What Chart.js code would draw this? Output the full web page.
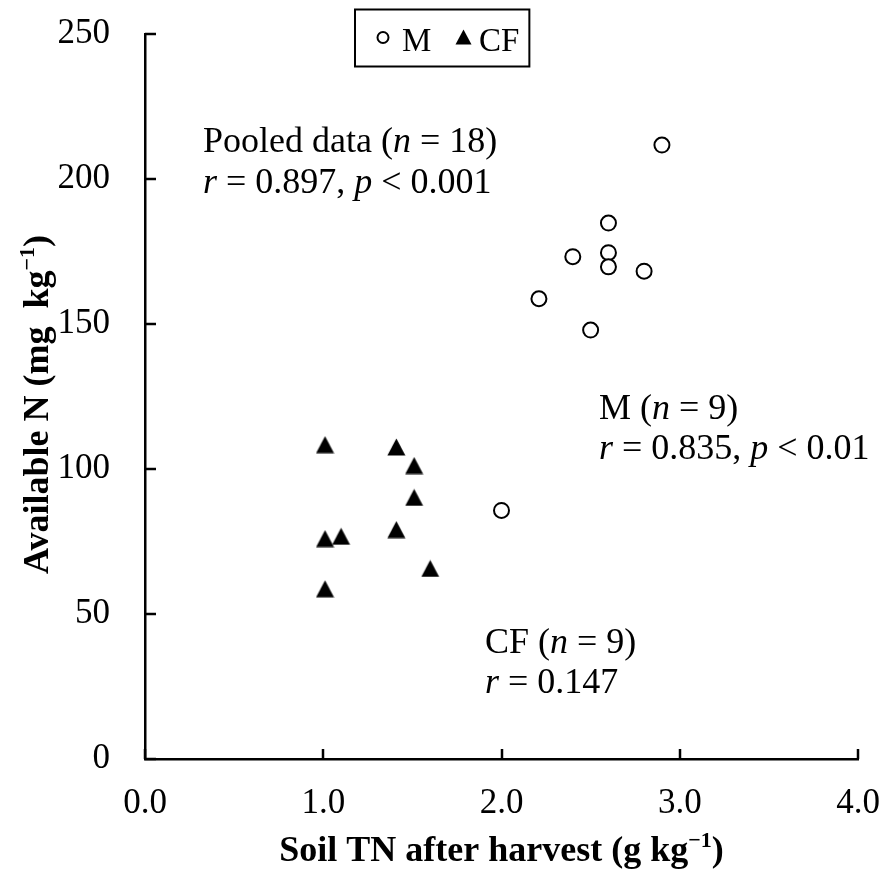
<!DOCTYPE html>
<html>
<head>
<meta charset="utf-8">
<script src="https://cdn.jsdelivr.net/npm/chart.js@4.4.1/dist/chart.umd.min.js"></script>
<style>
  html, body { margin: 0; padding: 0; background: #fff; }
  #wrap { width: 884px; height: 876px; }
</style>
</head>
<body>
<div id="wrap"><canvas id="nChart" width="884" height="876"></canvas></div>
<script>
// Manure (M) plots
const mTN = [2.0, 2.21, 2.4, 2.5, 2.6, 2.6, 2.6, 2.8, 2.9];
const mAvailN = [85.7, 158.7, 173.2, 147.9, 184.8, 174.6, 169.7, 168.2, 211.7];
// Chemical fertilizer (CF) plots
const cfTN = [1.01, 1.01, 1.01, 1.1, 1.41, 1.41, 1.51, 1.51, 1.6];
const cfAvailN = [108.4, 76.0, 58.7, 76.8, 107.6, 79.1, 101.2, 90.2, 65.7];

const xTicks = [0, 1, 2, 3, 4];
const yTicks = [0, 50, 100, 150, 200, 250];

const FONT = '"Liberation Serif", "Times New Roman", serif';

// filled triangle marker, centred on its box like the original
function makeTriangle(w, h) {
    const c = document.createElement('canvas');
    c.width = w;
    c.height = h;
    const g = c.getContext('2d');
    g.fillStyle = '#000';
    g.beginPath();
    g.moveTo(w / 2, 0.5);
    g.lineTo(w - 0.5, h - 0.5);
    g.lineTo(0.5, h - 0.5);
    g.closePath();
    g.fill();
    return c;
}
const triMarker = makeTriangle(19, 18);

function drawRich(ctx, parts, x, y, size, bold) {
    let cx = x;
    parts.forEach(([txt, italic]) => {
        ctx.font = `${italic ? 'italic ' : ''}${bold ? 'bold ' : ''}${size}px ${FONT}`;
        ctx.fillText(txt, cx, y);
        cx += ctx.measureText(txt).width;
    });
    return cx;
}

// text with "−1" superscript before the closing bracket
function titleWidth(ctx, main, sup, tail, size) {
    ctx.font = `bold ${size}px ${FONT}`;
    let w = ctx.measureText(main).width + ctx.measureText(tail).width;
    ctx.font = `bold ${Math.round(size * 0.62)}px ${FONT}`;
    return w + ctx.measureText(sup).width;
}
function drawTitle(ctx, main, sup, tail, x, y, size) {
    ctx.font = `bold ${size}px ${FONT}`;
    ctx.fillText(main, x, y);
    let cx = x + ctx.measureText(main).width;
    ctx.font = `bold ${Math.round(size * 0.62)}px ${FONT}`;
    ctx.fillText(sup, cx, y - size * 0.4);
    cx += ctx.measureText(sup).width;
    ctx.font = `bold ${size}px ${FONT}`;
    ctx.fillText(tail, cx, y);
}

const extras = {
    id: 'extras',
    afterDraw(chart) {
        const ctx = chart.ctx;
        const xs = chart.scales.x;
        const ys = chart.scales.y;
        ctx.save();
        ctx.strokeStyle = '#000';
        ctx.fillStyle = '#000';
        ctx.lineWidth = 2.5;

        // inward tick marks
        xTicks.forEach(v => {
            const px = Math.round(xs.getPixelForValue(v));
            ctx.beginPath();
            ctx.moveTo(px, ys.bottom);
            ctx.lineTo(px, ys.bottom - 10);
            ctx.stroke();
        });
        yTicks.forEach(v => {
            const py = Math.round(ys.getPixelForValue(v));
            ctx.beginPath();
            ctx.moveTo(xs.left, py);
            ctx.lineTo(xs.left + 11, py);
            ctx.stroke();
        });

        // annotations
        ctx.textAlign = 'left';
        ctx.textBaseline = 'alphabetic';
        const aSize = 36;
        drawRich(ctx, [['Pooled data (', false], ['n', true], [' = 18)', false]], 203, 152, aSize);
        drawRich(ctx, [['r', true], [' = 0.897, ', false], ['p', true], [' < 0.001', false]], 203, 193, aSize);
        drawRich(ctx, [['M (', false], ['n', true], [' = 9)', false]], 599, 419, aSize);
        drawRich(ctx, [['r', true], [' = 0.835, ', false], ['p', true], [' < 0.01', false]], 599, 459, aSize);
        drawRich(ctx, [['CF (', false], ['n', true], [' = 9)', false]], 485, 653, aSize);
        drawRich(ctx, [['r', true], [' = 0.147', false]], 485, 693, aSize);

        // legend box
        ctx.lineWidth = 2;
        ctx.font = `33px ${FONT}`;
        const cfEnd = 479 + ctx.measureText('CF').width;
        ctx.strokeRect(355, 9.5, cfEnd + 10 - 355, 57);
        ctx.beginPath();
        ctx.arc(383, 37.5, 5.5, 0, Math.PI * 2);
        ctx.stroke();
        ctx.fillText('M', 402, 51);
        ctx.drawImage(makeTriangle(17, 16), 455, 29);
        ctx.fillText('CF', 479, 51);

        // axis titles
        const tSize = 36;
        const xw = titleWidth(ctx, 'Soil TN after harvest (g kg', '\u22121', ')', tSize);
        drawTitle(ctx, 'Soil TN after harvest (g kg', '\u22121', ')', (xs.left + xs.right) / 2 - xw / 2, 861, tSize);

        ctx.translate(48, (ys.top + ys.bottom) / 2 + 8);
        ctx.rotate(-Math.PI / 2);
        const yw = titleWidth(ctx, 'Available N (mg  kg', '\u22121', ')', tSize);
        drawTitle(ctx, 'Available N (mg  kg', '\u22121', ')', -yw / 2, 0, tSize);
        ctx.restore();
    }
};

const ctx = document.getElementById('nChart').getContext('2d');
new Chart(ctx, {
    type: 'scatter',
    data: {
        datasets: [{
            label: 'M',
            data: mTN.map((x, i) => ({ x, y: mAvailN[i] })),
            pointStyle: 'circle',
            pointRadius: 7.5,
            pointBorderWidth: 2,
            pointBorderColor: '#000',
            pointBackgroundColor: '#fff'
        }, {
            label: 'CF',
            data: cfTN.map((x, i) => ({ x, y: cfAvailN[i] })),
            pointStyle: triMarker,
            pointRadius: 9,
            pointBorderWidth: 0,
            pointBackgroundColor: '#000'
        }]
    },
    options: {
        responsive: false,
        animation: false,
        layout: { padding: { top: 34, right: 26, left: 0, bottom: 0 } },
        plugins: {
            legend: { display: false },
            tooltip: { enabled: false }
        },
        scales: {
            x: {
                type: 'linear',
                min: 0,
                max: 4,
                afterFit: s => {
                    s.height = 117;
                    s.paddingLeft = 0;
                    s.paddingRight = 0;
                },
                afterBuildTicks: s => { s.ticks = xTicks.map(v => ({ value: v })); },
                border: { display: true, color: '#000', width: 2.5 },
                grid: { display: false, drawTicks: false },
                ticks: {
                    color: '#000',
                    padding: 24,
                    maxRotation: 0,
                    font: { family: FONT, size: 35 },
                    callback: v => v.toFixed(1)
                }
            },
            y: {
                min: 0,
                max: 250,
                afterFit: s => {
                    s.width = 145;
                    s.paddingTop = 0;
                    s.paddingBottom = 0;
                },
                afterBuildTicks: s => { s.ticks = yTicks.map(v => ({ value: v })); },
                border: { display: true, color: '#000', width: 2.5 },
                grid: { display: false, drawTicks: false },
                ticks: {
                    color: '#000',
                    padding: 35,
                    font: { family: FONT, size: 35 },
                    callback: v => String(v)
                }
            }
        }
    },
    plugins: [extras]
});
</script>
</body>
</html>
